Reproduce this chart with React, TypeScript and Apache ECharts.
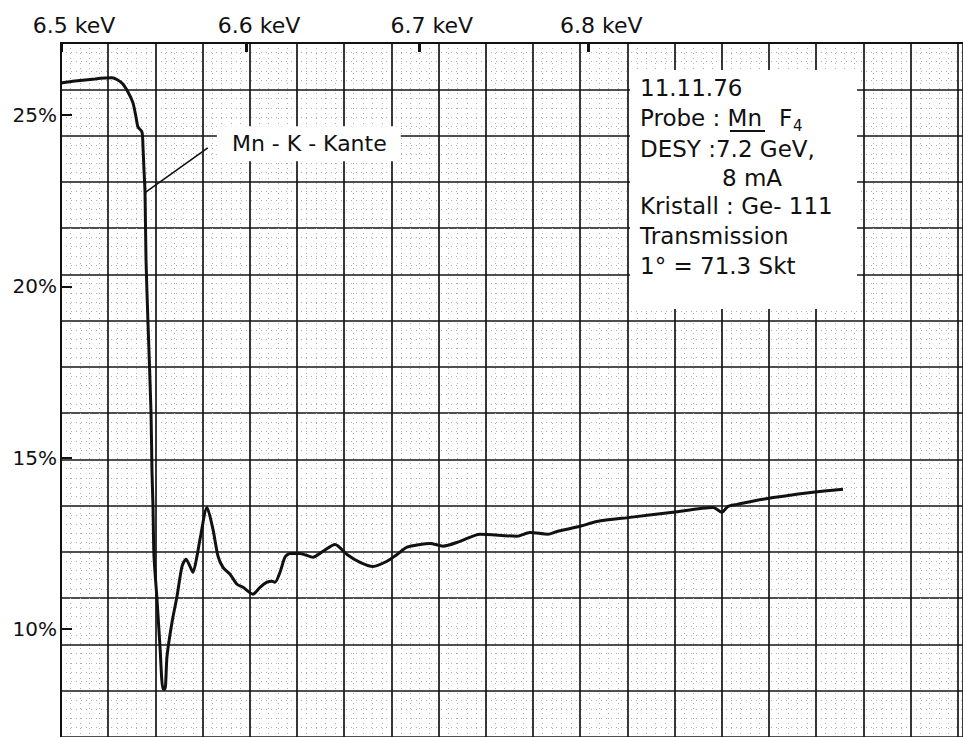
import React, { useEffect, useRef } from "react";
import * as echarts from "echarts";

// Abscissa: chart-paper divisions (recorder scan); ordinate: transmission in %
const angleDiv = [
  0, 0.297, 0.72, 1.081, 1.292, 1.419, 1.525, 1.589, 1.631, 1.716, 1.737, 1.758, 1.78, 1.801,
  1.843, 1.907, 1.928, 1.949, 1.97, 2.034, 2.097, 2.161, 2.203, 2.246, 2.352, 2.458, 2.564,
  2.648, 2.733, 2.797, 2.881, 2.945, 3.093, 3.22, 3.326, 3.432, 3.581, 3.729, 3.856, 4.068,
  4.216, 4.364, 4.47, 4.534, 4.64, 4.746, 4.852, 5.064, 5.339, 5.551, 5.805, 6.059, 6.335,
  6.61, 6.907, 7.119, 7.331, 7.606, 7.818, 8.093, 8.453, 8.877, 9.661, 9.936, 10.318, 10.508,
  10.996, 11.356, 12.055, 12.966, 13.814, 14.004, 14.131, 14.322, 14.873, 15.932, 16.568,
];
const transmissionPct = [
  25.93, 25.99, 26.05, 26.08, 25.93, 25.67, 25.35, 24.94, 24.65, 24.5, 24.07, 23.4, 22.73, 20.78,
  18.94, 16.32, 14.57, 13.58, 12.13, 10.87, 9.5, 8.25, 8.25, 9.21, 10.2, 10.96, 11.83,
  12.04, 11.83, 11.66, 12.13, 12.62, 13.55, 12.91, 12.13, 11.8, 11.6, 11.31, 11.22, 11.02,
  11.22, 11.37, 11.4, 11.37, 11.66, 12.1, 12.21, 12.21, 12.1, 12.27, 12.47, 12.18, 11.95,
  11.83, 11.98, 12.18, 12.39, 12.47, 12.5, 12.42, 12.56, 12.77, 12.71, 12.82, 12.77, 12.85,
  13.0, 13.14, 13.26, 13.41, 13.55, 13.41, 13.58, 13.64, 13.79, 13.99, 14.08,
];

const energyKeV = [6.5, 6.6, 6.7, 6.8];
const energyTickDiv = [0, 3.92, 7.58, 11.17];
const percentTicks = [10, 15, 20, 25];

const edgeLabel = "Mn - K - Kante";
const edgeLeaderFrom = [1.78, 22.73];
const edgeLeaderTo = [3.11, 24.04];
const edgeLabelAt = [5.25, 24.16];

const infoLines = [
  "11.11.76",
  "Probe : Mn",
  "DESY :7.2 GeV,",
  "8 mA",
  "Kristall : Ge- 111",
  "Transmission",
  "1° = 71.3 Skt",
];

const FONT = "DejaVu Sans";
const INK = "#111";

export default function App() {
  const ref = useRef<HTMLDivElement>(null);

  useEffect(() => {
    const chart = echarts.init(ref.current!, null, { renderer: "svg" });
    const data = angleDiv.map((x, i) => [x, transmissionPct[i]]);
    const xMax = 902 / 47.2;

    const majorLine = { color: "#151515", width: 1.7 };
    const minorLine = { color: "#b0b0b0", width: 1, type: [1, 4] };

    const infoY = [88, 118, 149, 178, 206, 236, 266];
    const infoX = [640, 640, 640, 722, 640, 640, 640];

    chart.setOption({
      animation: false,
      backgroundColor: "#fff",
      grid: { left: 61, top: 43, width: 902, height: 695 },
      xAxis: [
        {
          type: "value",
          min: 0,
          max: xMax,
          interval: 1,
          position: "bottom",
          axisLine: { show: false },
          axisTick: { show: false },
          axisLabel: { show: false },
          splitLine: { show: true, lineStyle: majorLine },
          minorTick: { show: false, splitNumber: 5 },
          minorSplitLine: { show: true, lineStyle: minorLine },
        },
        {
          type: "value",
          min: 0,
          max: xMax,
          position: "top",
          axisLine: { show: true, onZero: false, lineStyle: { color: INK, width: 2 } },
          axisTick: {
            show: true,
            inside: true,
            length: 9,
            customValues: energyTickDiv,
            lineStyle: { color: INK, width: 3 },
          },
          axisLabel: {
            show: true,
            customValues: energyTickDiv,
            formatter: (v: number) => {
              const i = energyTickDiv.findIndex((t) => Math.abs(t - v) < 1e-6);
              return i >= 0 ? energyKeV[i].toFixed(1) + " keV" : "";
            },
            fontFamily: FONT,
            fontSize: 22,
            color: INK,
            margin: 7,
            padding: [0, 0, 0, 26],
          },
          splitLine: { show: false },
        },
      ],
      yAxis: [
        {
          type: "value",
          min: 6.854,
          max: 27.097,
          position: "left",
          axisLine: { show: true, onZero: false, lineStyle: { color: INK, width: 2 } },
          axisTick: {
            show: true,
            inside: true,
            length: 11,
            customValues: percentTicks,
            lineStyle: { color: INK, width: 2 },
          },
          axisLabel: {
            show: true,
            customValues: percentTicks,
            formatter: (v: number) => v + "%",
            fontFamily: FONT,
            fontSize: 20,
            color: INK,
            margin: 4,
          },
          splitLine: { show: false },
        },
        {
          type: "value",
          min: 0,
          max: 15,
          interval: 1,
          inverse: true,
          position: "left",
          axisLine: { show: false },
          axisTick: { show: false },
          axisLabel: { show: false },
          splitLine: { show: true, lineStyle: majorLine },
          minorTick: { show: false, splitNumber: 5 },
          minorSplitLine: { show: true, lineStyle: minorLine },
        },
      ],
      series: [
        {
          type: "line",
          xAxisIndex: 0,
          yAxisIndex: 0,
          data,
          showSymbol: false,
          symbol: "none",
          smooth: 0.25,
          lineStyle: { color: INK, width: 3 },
          z: 5,
          markLine: {
            silent: true,
            symbol: ["none", "none"],
            label: { show: false },
            lineStyle: { color: INK, width: 1.6, type: "solid" },
            data: [[{ coord: edgeLeaderFrom }, { coord: edgeLeaderTo }]],
          },
          markPoint: {
            silent: true,
            symbol: "circle",
            symbolSize: 1,
            itemStyle: { color: "rgba(0,0,0,0)" },
            label: {
              show: true,
              position: "inside",
              formatter: edgeLabel,
              fontFamily: FONT,
              fontSize: 22,
              color: INK,
              backgroundColor: "#fff",
              padding: [7, 14, 6, 15],
            },
            data: [{ coord: edgeLabelAt }],
          },
        },
      ],
      graphic: [
        {
          type: "rect",
          z: 10,
          shape: { x: 630, y: 70, width: 227, height: 239 },
          style: { fill: "#fff" },
        },
        ...infoLines.map((t, i) => ({
          type: "text",
          z: 11,
          x: infoX[i],
          y: infoY[i],
          style: {
            text: t,
            fontFamily: FONT,
            fontSize: 23,
            fill: INK,
            align: "left",
            verticalAlign: "middle",
          },
        })),
        {
          type: "line",
          z: 11,
          shape: { x1: 730, y1: 131, x2: 765, y2: 131 },
          style: { stroke: INK, lineWidth: 2 },
        },
        {
          type: "text",
          z: 11,
          x: 779,
          y: 118,
          style: { text: "F", fontFamily: FONT, fontSize: 23, fill: INK, verticalAlign: "middle" },
        },
        {
          type: "text",
          z: 11,
          x: 793,
          y: 126,
          style: { text: "4", fontFamily: FONT, fontSize: 15, fill: INK, verticalAlign: "middle" },
        },
      ],
    });
    return () => chart.dispose();
  }, []);

  return (
    <div
      ref={ref}
      style={{ position: "fixed", left: 0, top: 0, width: 963, height: 737, background: "#fff" }}
    />
  );
}
